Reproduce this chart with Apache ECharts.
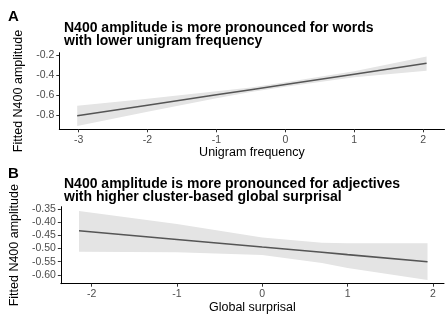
<!DOCTYPE html>
<html>
<head>
<meta charset="utf-8">
<script src="https://cdn.jsdelivr.net/npm/echarts@6/dist/echarts.min.js"></script>
<style>
html,body{margin:0;padding:0;background:#fff;}
#c{width:447px;height:316px;}
</style>
</head>
<body>
<div id="c"></div>
<script>
// Panel A: unigram frequency
const aX = [-3.02, -2, -1, -0.5, 0, 1, 2.05];
const aFit = [-0.807, -0.702, -0.598, -0.547, -0.495, -0.392, -0.283];
const aUpper = [-0.707, -0.637, -0.563, -0.525, -0.473, -0.362, -0.215];
const aLower = [-0.910, -0.767, -0.633, -0.569, -0.517, -0.422, -0.357];
const aXTicks = [-3, -2, -1, 0, 1, 2];
const aYTicks = [-0.8, -0.6, -0.4, -0.2];

// Panel B: global surprisal
const bX = [-2.147, -1, 0, 0.7, 1, 1.937];
const bFit = [-0.432, -0.465, -0.494, -0.514, -0.523, -0.55];
const bUpper = [-0.356, -0.406, -0.458, -0.478, -0.48, -0.48];
const bLower = [-0.512, -0.514, -0.524, -0.555, -0.574, -0.62];
const bXTicks = [-2, -1, 0, 1, 2];
const bYTicks = [-0.60, -0.55, -0.50, -0.45, -0.40, -0.35];

const FONT = 'Liberation Sans, Arial, sans-serif';

function band(idx, xs, lo, hi) {
  return {
    type: 'custom', xAxisIndex: idx, yAxisIndex: idx, silent: true, z: 1,
    data: xs.map((x, i) => [x, lo[i], hi[i]]),
    encode: {x: 0, y: [1, 2]},
    renderItem: function (params, api) {
      if (params.dataIndex !== 0) return null;
      const pts = [];
      for (let i = 0; i < xs.length; i++) pts.push(api.coord([xs[i], hi[i]]));
      for (let i = xs.length - 1; i >= 0; i--) pts.push(api.coord([xs[i], lo[i]]));
      return {type: 'polygon', shape: {points: pts}, style: {fill: '#e4e4e4'}};
    }
  };
}
function fitLine(idx, xs, ys) {
  return {
    type: 'line', xAxisIndex: idx, yAxisIndex: idx, silent: true, z: 3,
    data: xs.map((x, i) => [x, ys[i]]), symbol: 'none',
    lineStyle: {color: '#555555', width: 1.6}
  };
}
function xAxis(idx, min, max, ticks, name) {
  return {
    type: 'value', gridIndex: idx, min: min, max: max,
    name: name, nameLocation: 'middle', nameGap: 17,
    nameTextStyle: {fontFamily: FONT, fontSize: 12.5, color: '#000'},
    axisLine: {show: true, onZero: false, lineStyle: {color: '#000', width: 1}},
    axisTick: {show: true, length: 3, customValues: ticks, lineStyle: {color: '#333'}},
    axisLabel: {customValues: ticks, margin: 5, fontFamily: FONT, fontSize: 10.5, color: '#4d4d4d',
      formatter: v => String(Math.round(v))},
    splitLine: {show: false}
  };
}
function yAxis(idx, min, max, ticks, dec) {
  return {
    type: 'value', gridIndex: idx, min: min, max: max,
    name: 'Fitted N400 amplitude', nameLocation: 'middle', nameGap: 32,
    nameTextStyle: {fontFamily: FONT, fontSize: 12.5, color: '#000'},
    axisLine: {show: true, onZero: false, lineStyle: {color: '#000', width: 1}},
    axisTick: {show: true, length: 3, customValues: ticks, lineStyle: {color: '#333'}},
    axisLabel: {customValues: ticks, margin: 5, fontFamily: FONT, fontSize: 10.5, color: '#4d4d4d',
      formatter: v => v.toFixed(dec)},
    splitLine: {show: false}
  };
}

const chart = echarts.init(document.getElementById('c'), null, {renderer: 'canvas'});
chart.setOption({
  animation: false,
  backgroundColor: '#fff',
  title: [
    {text: 'A', left: 3, top: 4, textStyle: {fontFamily: FONT, fontSize: 15, fontWeight: 'bold', color: '#000'}},
    {text: 'N400 amplitude is more pronounced for words\nwith lower unigram frequency', left: 59, top: 17,
      textStyle: {fontFamily: FONT, fontSize: 14, lineHeight: 13, fontWeight: 'bold', color: '#000'}},
    {text: 'B', left: 3, top: 161, textStyle: {fontFamily: FONT, fontSize: 15, fontWeight: 'bold', color: '#000'}},
    {text: 'N400 amplitude is more pronounced for adjectives\nwith higher cluster-based global surprisal', left: 59, top: 173,
      textStyle: {fontFamily: FONT, fontSize: 14, lineHeight: 13, fontWeight: 'bold', color: '#000'}}
  ],
  grid: [
    {left: 59.3, top: 52.7, width: 385.2, height: 76.6},
    {left: 59.3, top: 206.7, width: 384.7, height: 77}
  ],
  xAxis: [
    xAxis(0, -3.28, 2.31, aXTicks, 'Unigram frequency'),
    xAxis(1, -2.36, 2.13, bXTicks, 'Global surprisal')
  ],
  yAxis: [
    yAxis(0, -0.943, -0.177, aYTicks, 1),
    yAxis(1, -0.634, -0.340, bYTicks, 2)
  ],
  series: [
    band(0, aX, aLower, aUpper),
    fitLine(0, aX, aFit),
    band(1, bX, bLower, bUpper),
    fitLine(1, bX, bFit)
  ]
});
</script>
</body>
</html>
